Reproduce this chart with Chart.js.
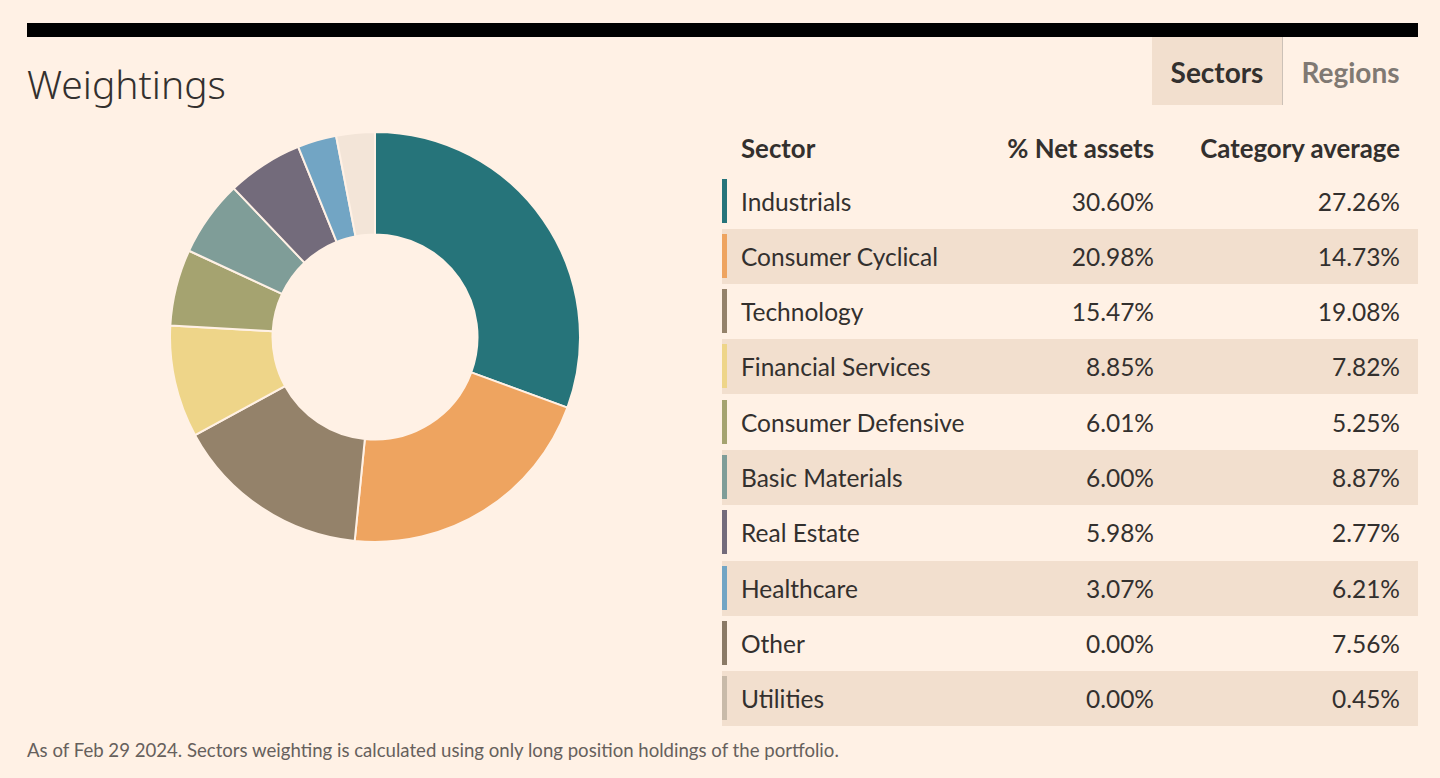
<!DOCTYPE html>
<html>
<head>
<meta charset="utf-8">
<script src="https://cdn.jsdelivr.net/npm/chart.js@4.4.1/dist/chart.umd.min.js"></script>
<style>
  html, body { margin: 0; padding: 0; background: #fff1e5; }
  body { width: 1440px; height: 778px; position: relative; overflow: hidden; font-family: Lato, "Noto Sans", sans-serif; color: #33302e; }
  #topbar { position: absolute; left: 27px; top: 23px; width: 1391px; height: 14px; background: #000; }
  #title { position: absolute; left: 27px; top: 58px; font-family: "Noto Sans", sans-serif; font-size: 39px; font-weight: 300; line-height: 52px; color: #33302e; }
  .tab { position: absolute; top: 37px; height: 68px; line-height: 70px; font-size: 28px; font-weight: 700; text-align: center; }
  #tab1 { left: 1152px; width: 130px; background: #f2dfce; border-right: 1px solid #ccc1b7; color: #33302e; }
  #tab2 { left: 1283px; width: 135px; color: #807973; }
  #wrap { position: absolute; left: 169px; top: 131px; width: 412px; height: 412px; }
  .row { position: absolute; left: 722px; width: 696px; height: 55px; font-size: 24.5px; }
  .row.alt { background: #f2dfce; }
  .row .bar { position: absolute; left: 0; top: 5px; width: 5px; height: 44px; }
  .row span { position: absolute; top: 0; line-height: 55px; white-space: nowrap; }
  .row .c1 { left: 19px; }
  .row .c2 { right: 264px; }
  .row .c3 { right: 18px; }
  .head { font-weight: 700; font-size: 25.8px; }
  #foot { position: absolute; left: 27px; top: 739px; font-size: 18.6px; color: #66605c; }
</style>
</head>
<body>
<div id="topbar"></div>
<div id="title">Weightings</div>
<div class="tab" id="tab1">Sectors</div>
<div class="tab" id="tab2">Regions</div>
<div id="wrap"><canvas id="donut"></canvas></div>
<div id="table"></div>
<div id="foot">As of Feb 29 2024. Sectors weighting is calculated using only long position holdings of the portfolio.</div>

<script>
var sectors = ["Industrials", "Consumer Cyclical", "Technology", "Financial Services", "Consumer Defensive",
               "Basic Materials", "Real Estate", "Healthcare", "Other", "Utilities"];
var net_assets = [30.60, 20.98, 15.47, 8.85, 6.01, 6.00, 5.98, 3.07, 0.00, 0.00];
var category_avg = [27.26, 14.73, 19.08, 7.82, 5.25, 8.87, 2.77, 6.21, 7.56, 0.45];
var sector_colors = ["#26747a", "#eea460", "#94826a", "#eed589", "#a5a370",
                     "#7f9d98", "#736b7b", "#72a5c4", "#8b7a66", "#c8baa9"];
// unclassified part of the portfolio, shown as the pale slice at the top
var unclassified = 3.04;
var unclassified_color = "#f3e5d8";

$ = function(id){ return document.getElementById(id); };

function buildTable(){
    var table = $("table");
    var head = document.createElement('div');
    head.className = "row head";
    head.style.top = "121px";
    head.innerHTML = '<span class="c1">Sector</span><span class="c2">% Net assets</span><span class="c3">Category average</span>';
    table.appendChild(head);
    for(var i = 0; i < sectors.length; i++){
        var row = document.createElement('div');
        row.className = "row" + (i % 2 == 1 ? " alt" : "");
        row.style.top = (173.5 + 55.3 * i) + "px";
        row.innerHTML = '<div class="bar" style="background:' + sector_colors[i] + '"></div>' +
            '<span class="c1">' + sectors[i] + '</span>' +
            '<span class="c2">' + net_assets[i].toFixed(2) + '%</span>' +
            '<span class="c3">' + category_avg[i].toFixed(2) + '%</span>';
        table.appendChild(row);
    }
}

function buildDonut(){
    var ctx = $("donut").getContext('2d');
    new Chart(ctx, {
        type: 'doughnut',
        data: {
            labels: sectors.concat(["Unclassified"]),
            datasets: [{
                data: net_assets.concat([unclassified]),
                backgroundColor: sector_colors.concat([unclassified_color]),
                borderColor: "#fff1e5",
                borderWidth: 2
            }]
        },
        options: {
            responsive: true,
            maintainAspectRatio: false,
            animation: false,
            cutout: '50%',
            layout: { padding: 0 },
            plugins: {
                legend: { display: false },
                tooltip: { enabled: false }
            }
        }
    });
}

buildTable();
buildDonut();
</script>
</body>
</html>
